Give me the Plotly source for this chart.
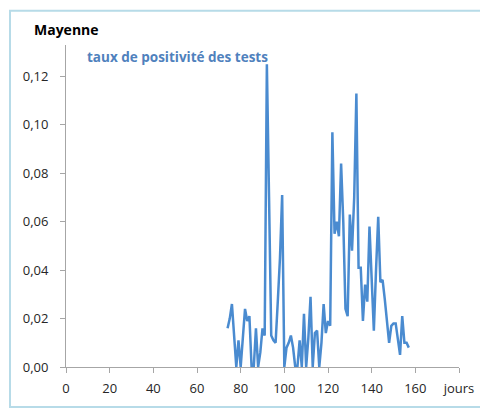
import plotly.graph_objects as go

days = list(range(74, 158))
taux = [
    0.016, 0.020, 0.026, 0.012, 0.000, 0.011, 0.000, 0.012, 0.024, 0.019,
    0.021, 0.000, 0.000, 0.016, 0.000, 0.006, 0.016, 0.013, 0.125, 0.070,
    0.013, 0.011, 0.010, 0.027, 0.045, 0.071, 0.000, 0.008, 0.010, 0.013,
    0.008, 0.000, 0.000, 0.011, 0.000, 0.022, 0.000, 0.012, 0.029, 0.000,
    0.014, 0.015, 0.000, 0.010, 0.026, 0.014, 0.019, 0.017, 0.097, 0.055,
    0.060, 0.054, 0.084, 0.060, 0.024, 0.021, 0.063, 0.048, 0.070, 0.113,
    0.041, 0.041, 0.019, 0.034, 0.027, 0.058, 0.035, 0.015, 0.040, 0.062,
    0.035, 0.036, 0.028, 0.020, 0.010, 0.017, 0.018, 0.018, 0.012, 0.005,
    0.021, 0.010, 0.010, 0.008,
]
x_ticks = [0, 20, 40, 60, 80, 100, 120, 140, 160, 180]
x_ticktext = ["0", "20", "40", "60", "80", "100", "120", "140", "160", "jours"]
y_ticks = [0, 0.02, 0.04, 0.06, 0.08, 0.10, 0.12]
y_ticktext = ["0,00", "0,02", "0,04", "0,06", "0,08", "0,10", "0,12"]

fig = go.Figure()
fig.add_trace(go.Scatter(
    x=days, y=taux, mode="lines",
    line=dict(color="#4a8bd0", width=2.5),
    showlegend=False, hoverinfo="skip",
))

fig.update_layout(
    width=488, height=414,
    margin=dict(l=58, r=37, t=37, b=55),
    paper_bgcolor="white", plot_bgcolor="white",
    font=dict(family="Open Sans, DejaVu Sans, sans-serif", size=13, color="#262626"),
    xaxis=dict(
        range=[0, 180], tickvals=x_ticks, ticktext=x_ticktext,
        showgrid=False, zeroline=False, showline=True, linecolor="#a6a6a6", linewidth=1,
        ticks="outside", ticklen=5, tickcolor="#a6a6a6", ticklabelstandoff=4,
        tickfont=dict(size=13, color="#262626"),
    ),
    yaxis=dict(
        range=[0, 0.133], tickvals=y_ticks, ticktext=y_ticktext,
        showgrid=False, zeroline=False, showline=True, linecolor="#a6a6a6", linewidth=1,
        ticks="outside", ticklen=5, tickcolor="#a6a6a6", ticklabelstandoff=9,
        tickfont=dict(size=13, color="#262626"),
    ),
    annotations=[
        dict(text="<b>Mayenne</b>", xref="paper", yref="paper",
             x=-0.0865, y=1.047, xanchor="left", yanchor="middle", showarrow=False,
             font=dict(size=14, color="black")),
        dict(text="<b>taux de positivité des tests</b>", xref="paper", yref="paper",
             x=0.048, y=0.963, xanchor="left", yanchor="middle", showarrow=False,
             font=dict(size=13.5, color="#4f81bd")),
    ],
    shapes=[
        dict(type="rect", xref="paper", yref="paper",
             x0=-0.1425, x1=1.066, y0=-0.124, y1=1.106,
             line=dict(color="#b7dbe8", width=2), fillcolor="rgba(0,0,0,0)"),
    ],
)

fig.write_html("out.html")
